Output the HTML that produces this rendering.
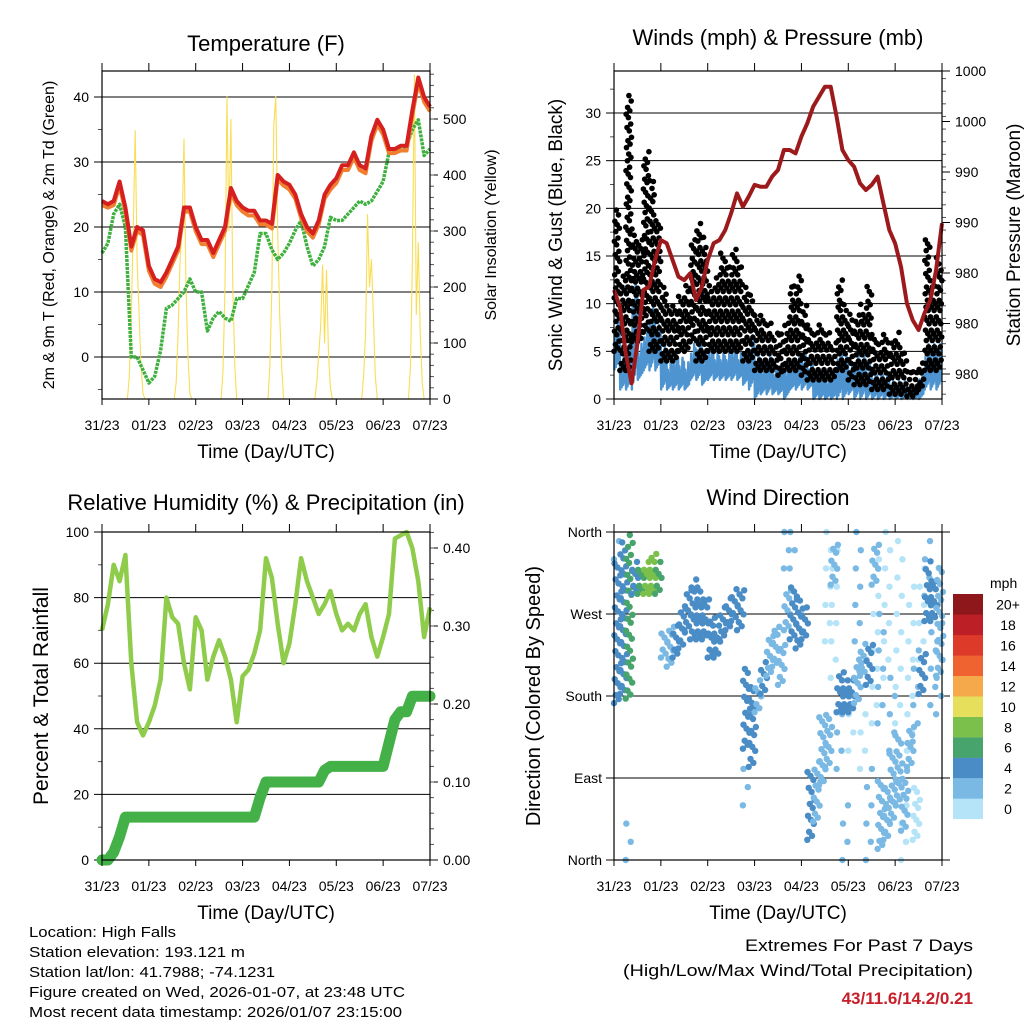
<!DOCTYPE html>
<html><head><meta charset="utf-8">
<style>
html,body{margin:0;padding:0;background:#fff;}
svg{display:block;font-family:"Liberation Sans",Arial,sans-serif;}
</style></head>
<body>
<svg id="fig" width="1024" height="1024" viewBox="0 0 1024 1024" xmlns="http://www.w3.org/2000/svg">
<rect x="0" y="0" width="1024" height="1024" fill="#fff"/>
<text x="266" y="51" font-size="22" text-anchor="middle">Temperature (F)</text>
<text x="778" y="45" font-size="22" text-anchor="middle">Winds (mph) &amp; Pressure (mb)</text>
<text x="266" y="510" font-size="22" text-anchor="middle">Relative Humidity (%) &amp; Precipitation (in)</text>
<text x="778" y="505" font-size="22" text-anchor="middle">Wind Direction</text>

<text x="266" y="458" font-size="19" text-anchor="middle">Time (Day/UTC)</text>
<text x="778" y="458" font-size="19" text-anchor="middle">Time (Day/UTC)</text>
<text x="266" y="919" font-size="19" text-anchor="middle">Time (Day/UTC)</text>
<text x="778" y="919" font-size="19" text-anchor="middle">Time (Day/UTC)</text>

<text transform="translate(54,235) rotate(-90)" font-size="16" text-anchor="middle">2m &amp; 9m T (Red, Orange) &amp; 2m Td (Green)</text>
<text transform="translate(496,235) rotate(-90)" font-size="16" text-anchor="middle">Solar Insolation (Yellow)</text>
<text transform="translate(562,235) rotate(-90)" font-size="19" text-anchor="middle">Sonic Wind &amp; Gust (Blue, Black)</text>
<text transform="translate(1020,235) rotate(-90)" font-size="19" text-anchor="middle">Station Pressure (Maroon)</text>
<text transform="translate(48,696) rotate(-90)" font-size="21" text-anchor="middle">Percent &amp; Total Rainfall</text>
<text transform="translate(540,696) rotate(-90)" font-size="20" text-anchor="middle">Direction (Colored By Speed)</text>

<g font-size="15">
<text x="29" y="937" textLength="147" lengthAdjust="spacingAndGlyphs">Location: High Falls</text>
<text x="29" y="957" textLength="216" lengthAdjust="spacingAndGlyphs">Station elevation: 193.121 m</text>
<text x="29" y="977" textLength="246" lengthAdjust="spacingAndGlyphs">Station lat/lon: 41.7988; -74.1231</text>
<text x="29" y="997" textLength="376" lengthAdjust="spacingAndGlyphs">Figure created on Wed, 2026-01-07, at 23:48 UTC</text>
<text x="29" y="1017" textLength="373" lengthAdjust="spacingAndGlyphs">Most recent data timestamp: 2026/01/07 23:15:00</text>
</g>
<g font-size="17" text-anchor="end">
<text x="973" y="951" textLength="228" lengthAdjust="spacingAndGlyphs">Extremes For Past 7 Days</text>
<text x="973" y="976" textLength="350" lengthAdjust="spacingAndGlyphs">(High/Low/Max Wind/Total Precipitation)</text>
<text x="973" y="1004" fill="#c8202a" font-weight="bold">43/11.6/14.2/0.21</text>
</g>
<g id="plots"></g>
</svg>
<script>
// ---------- data ----------
const dayLabels = ["31/23","01/23","02/23","03/23","04/23","05/23","06/23","07/23"];
const sampleStep = 0.125; // days
const tempT = [24,23.5,24,27,23,17,20,19.5,14,12,11.5,13,15,17,23,23,20,18,18,16,18,20,26,24,23,22.5,22.5,21,21,20.5,28,27,26.5,25,22,20,19,21,25,26.5,27.5,29.5,29.5,31.5,29.5,29,34,36.5,35,32,32,32.5,32.5,38,43,40,38.5];
const tempT9 = [23.6,23.2,23.6,26.6,22.6,16.6,19.6,19,13.5,11.5,11,12.6,14.6,16.6,22.6,22.6,19.6,17.6,17.6,15.6,17.6,19.6,25.6,23.6,22.6,22,22,20.6,20.6,20,27.6,26.6,26,24.6,21.6,19.6,18.6,20.6,24.6,26,27,29,29,31,29,28.5,33.5,36,34.5,31.6,31.6,32,32,37.5,42.5,39.5,38];
const dewTd = [16,17.5,22,23.5,20,0,0,-2,-4,-3,1,7.5,8,9,10,12,10,10,4,6,7,6,5.5,9,9,11,13,19,19,16.5,15,16,17.5,19.5,21,17,14,15,17,21.5,21,21,22,23,24,23.5,24,25.5,27,31.5,32,32,32.5,35,36.5,31,32];
const solarHours = [12,13,14,15,16,17,18,19,20,21,22,23];
const solarDay0 = [0,0,40,150,300,480,250,150,60,10,0,0];
const solarDay1 = [0,0,30,120,250,300,465,200,80,10,0,0];
const solarDay2 = [0,0,50,200,540,300,500,200,60,0,0,0];
const solarDay3 = [0,0,60,200,490,540,300,150,60,0,0,0];
const solarDay4 = [0,0,30,80,130,240,100,230,80,20,0,0];
const solarDay5 = [0,0,40,120,330,200,250,150,40,0,0,0];
const solarDay6 = [0,0,60,250,580,150,280,120,30,0,0,0];
const pressure = [990.16,989.33,987.02,985.54,987.52,990.16,990.32,991.64,992.63,992.47,991.64,990.82,990.65,990.98,989.66,990.32,991.64,992.47,992.63,993.13,993.95,994.94,994.28,994.78,995.36,995.27,995.27,995.77,996.10,997.09,997.09,996.92,997.75,998.41,999.23,999.73,1000.22,1000.22,998.74,997.09,996.59,996.26,995.44,995.11,995.36,995.77,994.45,993.13,992.47,991.31,989.50,988.67,988.18,989.00,989.66,991.15,993.46];
const pressureTickLabels = ["1000","1000","990","990","980","980","980"];
const gustMin = [5,3,3,6,6,7,5,5,4,4,4,5,5,6,4,4,5,5,5,5,5,5,4,4,3,3,3,3,2.5,3,3,3,2.5,2,2,2,2,2,3,3,2,1.5,1.5,1.5,1,1,1,0.5,0.5,0.5,0.3,0.3,1,3,3,3];
const gustMax = [20,13,32,18,17,26,23,19,12,10,10,11,12,17,18.5,17,12,13,15.5,14,16,14,12,11,9,9,8,7,7,8,12,13,10,8,7,8,7,6,12.5,10,9,9,10,12,7,6,7,6,7,5,3,3,4,17,12,15];
const windMin = [3,1,1,1,2,3,3,3,1,1,1,1,1,2,2,1.5,2,2,2,2,2,2,1.5,1,0,0.5,0.5,0.5,0.5,0,1,1,1,1,0,0,0,0,0,0,0.5,0,0,0,0,0,0,0,0,0,0,0,0,1,1,1];
const windMax = [9,5,6,14,6,8,10,8,6,4,5,4.5,4,6,6.5,5,6,5,5,5,6,5,5,7,5,4,5,3.5,3.5,4,4,5,5,4,3,3,2.5,3,6,5,4,5,5,4,3,3,3,2,2,2,1.5,1.5,3,6,6,6];
const rh = [70,78,90,85,93,60,42,38,42,47,55,80,74,72,60,52,74,70,55,62,67,62,55,42,56,58,63,70,92,86,72,60,66,78,92,85,80,75,78,82,75,70,72,70,75,78,68,62,68,75,98,99,100,95,85,68,77];
const precip = [0,0,0.01,0.03,0.055,0.055,0.055,0.055,0.055,0.055,0.055,0.055,0.055,0.055,0.055,0.055,0.055,0.055,0.055,0.055,0.055,0.055,0.055,0.055,0.055,0.055,0.055,0.08,0.10,0.10,0.10,0.10,0.10,0.10,0.10,0.10,0.10,0.10,0.115,0.12,0.12,0.12,0.12,0.12,0.12,0.12,0.12,0.12,0.12,0.15,0.18,0.19,0.19,0.21,0.21,0.21,0.21];
const dirMin = [170,180,175,290,290,290,290,290,220,210,220,230,250,240,240,240,220,220,240,250,260,250,120,100,160,180,200,210,190,250,240,230,240,20,40,80,100,300,160,160,160,170,200,190,300,10,20,40,60,30,100,20,180,260,260,200];
const dirMax = [330,350,355,330,320,330,340,330,255,260,260,280,300,310,300,290,270,260,280,290,300,300,210,190,200,220,250,260,240,300,300,290,280,100,110,160,160,350,210,200,200,220,240,240,350,90,80,120,140,100,150,80,230,330,310,320];
const dirSpeed = [4,4,6,4,6,7,7,5,2,2,3,3,3,4,4,3,4,4,4,4,4,4,4,3,2,3,2,2,2,2,4,4,3,3,2,2,1,1,4,3,3,2,2,4,1,2,2,1,1,1,1,0,4,4,4,2];
const spreadMin = [330,-1,0,-1,-1,-1,-1,-1,-1,-1,-1,-1,-1,-1,-1,-1,-1,-1,-1,-1,-1,-1,60,-1,-1,-1,-1,-1,-1,320,320,-1,-1,-1,-1,-1,240,200,100,0,120,200,100,0,150,150,200,120,150,0,120,130,220,290,170,160];
const spreadMax = [360,-1,40,-1,-1,-1,-1,-1,-1,-1,-1,-1,-1,-1,-1,-1,-1,-1,-1,-1,-1,-1,100,-1,-1,-1,-1,-1,-1,360,360,-1,-1,-1,-1,-1,360,350,160,60,180,360,170,100,330,280,360,200,360,60,300,240,330,360,250,280];
const spreadSpeed = [2,0,2,0,0,0,0,0,0,0,0,0,0,0,0,0,0,0,0,0,0,0,2,0,0,0,0,0,0,2,2,0,0,0,0,0,0,0,2,2,0,1,0,1,0,1,0,1,0,0,0,1,0,2,2,1];
const dirTickLabels = ["North","East","South","West","North"];
const speedLegendLabels = ["0","2","4","6","8","10","12","14","16","18","20+"];
const speedColors = ["#b5e3f8","#7ab9e4","#4a8cc6","#48a46d","#7cc04c","#e5df5c","#f6a94b","#ef6330","#dd3a29","#bd1f27","#8e171b"];

// ---------- helpers ----------
const NS = "http://www.w3.org/2000/svg";
const root = document.getElementById("plots");
function mk(tag, attrs) {
  const el = document.createElementNS(NS, tag);
  for (const k in attrs) el.setAttribute(k, attrs[k]);
  root.appendChild(el);
  return el;
}
const W = 328;
function xScale(L) { return d => L + d * W / 7; }
function pts(arr, xs, ys, off) { return arr.map((v,i)=> xs(i*sampleStep).toFixed(1)+","+(ys(v)+(off||0)).toFixed(1)).join(" "); }

function frame(L, T, name) {
  const r = mk("rect", {x:L, y:T, width:W, height:W, fill:"none", stroke:"#000", "stroke-width":1.2});
  
  
}
function xAxis(L, T, name) {
  const xs = xScale(L);
  dayLabels.forEach((lab, i) => {
    const x = xs(i);
    const t1 = mk("line", {x1:x, x2:x, y1:T-8, y2:T, stroke:"#000", "stroke-width":1});
    
    
    const t2 = mk("line", {x1:x, x2:x, y1:T+W, y2:T+W+6, stroke:"#000", "stroke-width":1});
    
    
    const tx = mk("text", {x:x, y:T+W+31, "font-size":14, "text-anchor":"middle"});
    tx.textContent = lab;
    
    
  });
}
function leftAxis(L, T, vals, labels, ys, minors, grid, name) {
  vals.forEach((v,i) => {
    const y = ys(v);
    const g = mk("line", {x1:L-8, x2: grid ? L+W : L, y1:y, y2:y, stroke:"#000", "stroke-width":1});
    
    
    const tx = mk("text", {x:L-13, y:y+5, "font-size":14, "text-anchor":"end"});
    tx.textContent = labels[i];
    
    
  });
  minors.forEach(v => {
    const y = ys(v);
    const m = mk("line", {x1:L-4, x2:L, y1:y, y2:y, stroke:"#555", "stroke-width":1});
    
    
  });
}
function rightAxis(L, T, vals, labels, ys, minors, name) {
  const R = L + W;
  vals.forEach((v,i) => {
    const y = ys(v);
    const t = mk("line", {x1:R, x2:R+8, y1:y, y2:y, stroke:"#000", "stroke-width":1});
    
    
    const tx = mk("text", {x:R+13, y:y+5, "font-size":14});
    tx.textContent = labels[i];
    
    
  });
  minors.forEach(v => {
    const y = ys(v);
    const m = mk("line", {x1:R, x2:R+4, y1:y, y2:y, stroke:"#555", "stroke-width":1});
    
    
  });
}
function range(a,b,s){const o=[];for(let v=a;v<=b+1e-9;v+=s)o.push(+v.toFixed(4));return o;}

// ---------- Panel 1: Temperature ----------
(function(){
  const L=102, T=71, xs=xScale(L);
  const yT = v => 357 - v*6.5;
  const yS = v => 399 - v*0.56;
  leftAxis(L,T,[0,10,20,30,40],["0","10","20","30","40"],yT,[-5,5,15,25,35],true,"temp");
  rightAxis(L,T,[0,100,200,300,400,500],["0","100","200","300","400","500"],yS,range(20,580,20),"solar");
  const solarDays=[solarDay0,solarDay1,solarDay2,solarDay3,solarDay4,solarDay5,solarDay6];
  solarDays.forEach((arr,d)=>{
    const p = mk("polyline",{points:arr.map((v,i)=>xs(d+solarHours[i]/24).toFixed(1)+","+yS(v).toFixed(1)).join(" "),fill:"none",stroke:"#f9dd55","stroke-width":1.1});
    
    
  });
  const d = mk("polyline",{points:pts(dewTd,xs,yT),fill:"none",stroke:"#3db03d","stroke-width":3.5,"stroke-dasharray":"3 1","stroke-linejoin":"round"});
  
  
  const o = mk("polyline",{points:pts(tempT9,xs,yT,1.5),fill:"none",stroke:"#f08030","stroke-width":4,"stroke-linejoin":"round"});
  
  
  const r = mk("polyline",{points:pts(tempT,xs,yT),fill:"none",stroke:"#d61f1f","stroke-width":4,"stroke-linejoin":"round"});
  
  
  frame(L,T,"temp"); xAxis(L,T,"temp");
})();

// ---------- Panel 2: Winds ----------
(function(){
  const L=614, T=71, xs=xScale(L);
  const yW = v => 399 - v*9.533;
  const yP = p => 71 + (1001 - p)*20.2;
  leftAxis(L,T,[0,5,10,15,20,25,30],["0","5","10","15","20","25","30"],yW,range(2.5,32.5,5),false,"wind");
  [5,10,15,20,25,30].forEach(v=>{
    const g = mk("line",{x1:L,x2:L+W,y1:yW(v),y2:yW(v),stroke:"#000","stroke-width":1});
    
    
  });
  const pt = pressureTickLabels.map((_,i)=>1001 - i*2.5);
  rightAxis(L,T,pt,pressureTickLabels,yP,range(985,1001,0.625).filter(v=>!pt.includes(v)),"pressure");
  const band = [];
  windMin.forEach((lo,i)=>{
    const hi = windMax[i];
    for (let k=0;k<8;k++){
      const v = (k%2===0) ? lo + (hi-lo)*((k*0.23)%0.4) : hi - (hi-lo)*((k*0.31)%0.5);
      band.push(xs(i*sampleStep + (k+0.5)*sampleStep/8).toFixed(1)+","+yW(v).toFixed(1));
    }
  });
  const b = mk("polyline",{points:band.join(" "),fill:"none",stroke:"#4d94d0","stroke-width":2.4,"stroke-linejoin":"round"});
  
  
  gustMin.forEach((lo,i)=>{
    const hi = gustMax[i];
    let k=0;
    for (let v=lo; v<=hi+0.01; v+=0.45){
      const top = v > hi - 0.5 ? hi : v;
      const c = mk("circle",{cx:xs(i*sampleStep + ((k*0.618)%1)*sampleStep).toFixed(1), cy:(yW(top)+((k*0.29)%1)*3).toFixed(1), r:2.8, fill:"#000"});
      
      
      k++;
    }
  });
  const p = mk("polyline",{points:pts(pressure,xs,yP),fill:"none",stroke:"#9c1a1c","stroke-width":4,"stroke-linejoin":"round"});
  
  
  frame(L,T,"wind"); xAxis(L,T,"wind");
})();

// ---------- Panel 3: RH & Precip ----------
(function(){
  const L=102, T=532, xs=xScale(L);
  const yR = v => 860 - v*3.28;
  const yP = v => 860 - v*780;
  leftAxis(L,T,[0,20,40,60,80,100],["0","20","40","60","80","100"],yR,[10,30,50,70,90],true,"rh");
  rightAxis(L,T,[0,0.1,0.2,0.3,0.4],["0.00","0.10","0.20","0.30","0.40"],yP,range(0.02,0.42,0.02),"precip");
  const r = mk("polyline",{points:pts(rh,xs,yR),fill:"none",stroke:"#8fcc4c","stroke-width":4.5,"stroke-linejoin":"round"});
  
  
  const p = mk("polyline",{points:pts(precip,xs,yP),fill:"none",stroke:"#44b048","stroke-width":11,"stroke-linejoin":"round","stroke-linecap":"round"});
  
  
  frame(L,T,"rh"); xAxis(L,T,"rh");
})();

// ---------- Panel 4: Wind direction ----------
(function(){
  const L=614, T=532, xs=xScale(L);
  const yD = v => 860 - v*W/360;
  dirTickLabels.forEach((lab,i)=>{
    const y = yD(i*90);
    const g = mk("line",{x1:L-8,x2:L+W+8,y1:y,y2:y,stroke:"#000","stroke-width":1});
    
    
    const tx = mk("text",{x:L-12,y:y+5,"font-size":14,"text-anchor":"end"});
    tx.textContent = lab;
    
    
  });
  spreadMin.forEach((lo,i)=>{
    if (lo < 0) return;
    const hi = spreadMax[i];
    const col = speedColors[Math.min(10, Math.round(spreadSpeed[i]/2))];
    let k=0;
    for (let v=lo; v<=hi; v+=20){
      const c = mk("circle",{cx:xs(i*sampleStep + ((k*0.53)%1)*sampleStep*1.6).toFixed(1), cy:yD(v).toFixed(1), r:3.2, fill:col});
      
      
      k++;
    }
  });
  dirMin.forEach((lo,i)=>{
    const hi = dirMax[i];
    const col = speedColors[Math.min(10, Math.round(dirSpeed[i]/2))];
    let k=0;
    for (let v=lo; v<=hi; v+=6){
      const c = mk("circle",{cx:xs(i*sampleStep + ((k*0.618)%1)*sampleStep*1.3).toFixed(1), cy:(yD(v)+((k*0.37)%1)*4-2).toFixed(1), r:3.2, fill:col});
      
      
      k++;
    }
  });
  frame(L,T,"dir"); xAxis(L,T,"dir");
  const lt = mk("text",{x:990,y:588,"font-size":14});
  lt.textContent = "mph";
  
  
  speedLegendLabels.forEach((lab,i)=>{
    const y = 819 - (i+1)*20.45;
    const r = mk("rect",{x:953,y:y.toFixed(1),width:30,height:20.6,fill:speedColors[i]});
    
    
    const tx = mk("text",{x:1008,y:(y+15.5).toFixed(1),"font-size":14,"text-anchor":"middle"});
    tx.textContent = lab;
    
    
  });
})();
</script>
</body></html>
